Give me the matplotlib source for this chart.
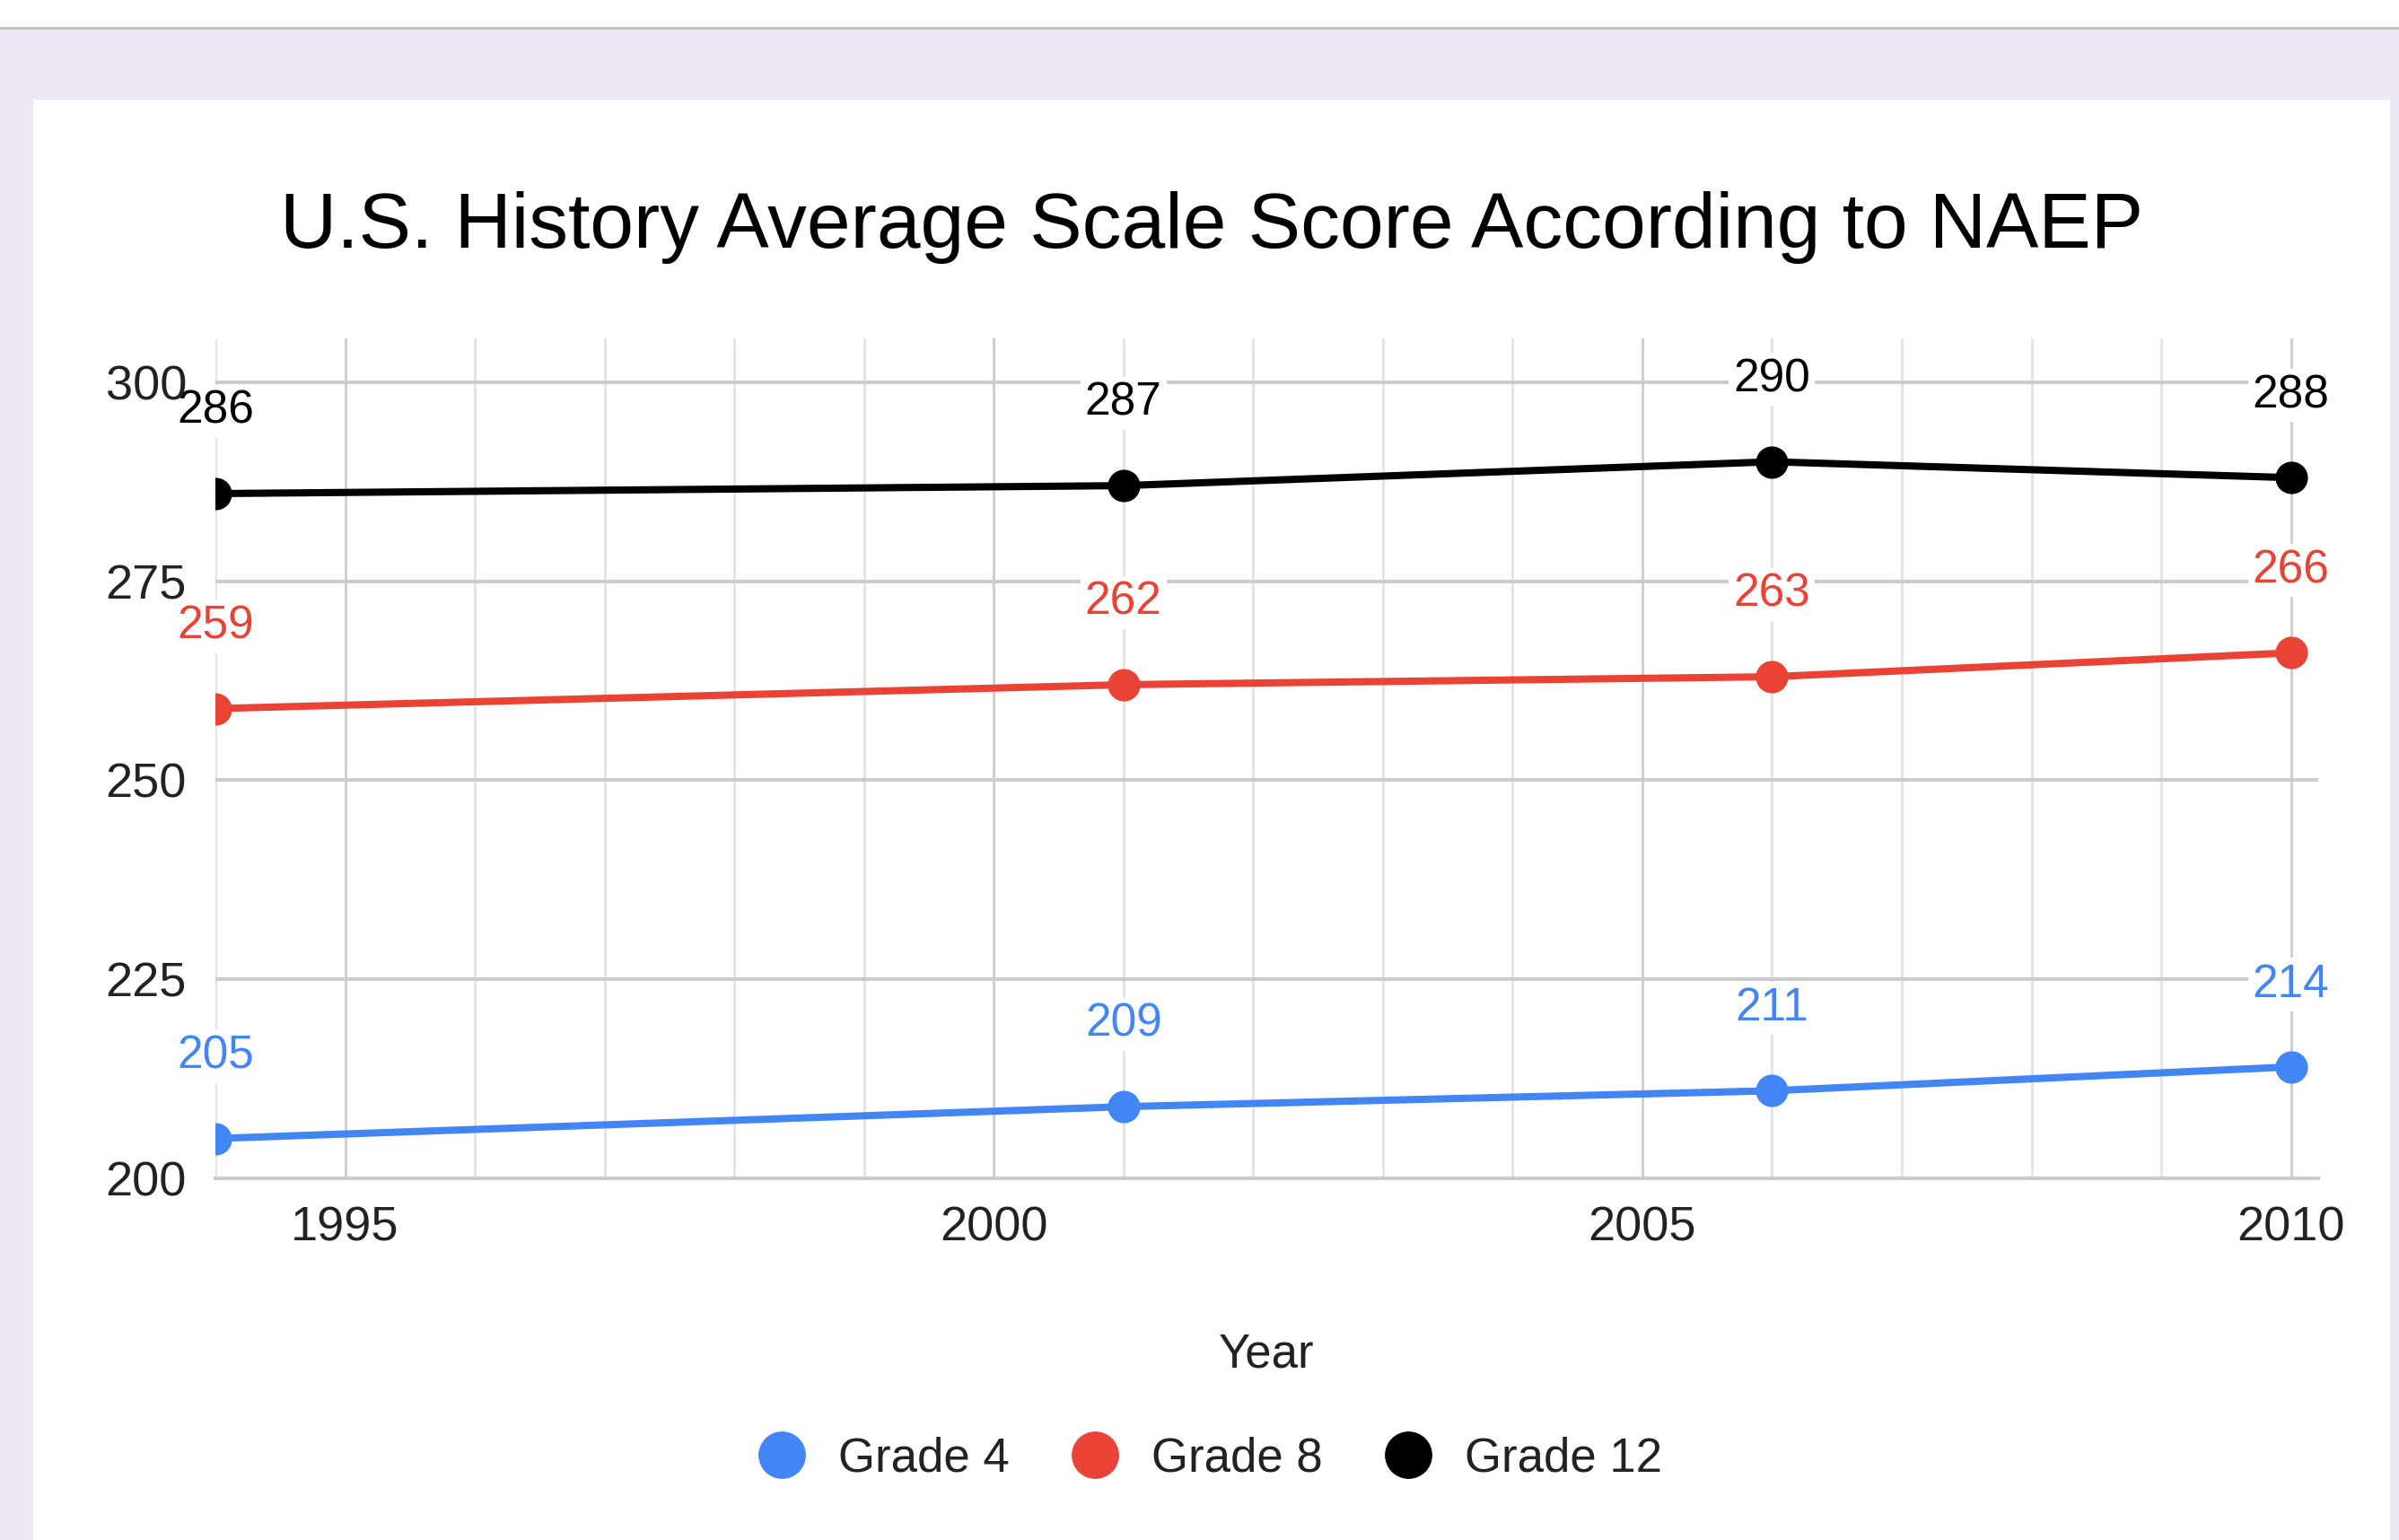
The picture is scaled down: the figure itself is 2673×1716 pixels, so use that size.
import matplotlib
matplotlib.use("Agg")
import matplotlib.pyplot as plt
from matplotlib.patches import Rectangle
from matplotlib.lines import Line2D

plt.rcParams['font.family'] = ['Liberation Sans', 'DejaVu Sans']

# ---- data ----
years = [1994, 2001, 2006, 2010]
series_names = ["Grade 4", "Grade 8", "Grade 12"]
grade4 = [205, 209, 211, 214]
grade8 = [259, 262, 263, 266]
grade12 = [286, 287, 290, 288]
series_values = [grade4, grade8, grade12]
series_colors = ["#4285F4", "#EA4335", "#000000"]
y_ticks = [200, 225, 250, 275, 300]
x_major = [1995, 2000, 2005, 2010]
x_minor = list(range(1994, 2011))
title = "U.S. History Average Scale Score According to NAEP"
x_label = "Year"

W, H = 2673, 1716
fig = plt.figure(figsize=(W / 100, H / 100), dpi=100)
fig.patch.set_facecolor("white")

# backgrounds
fig.add_artist(Rectangle((0, 0), 1, 1 - 33 / H, transform=fig.transFigure,
                         facecolor="#EDE7F6", edgecolor="none", zorder=-10))
fig.add_artist(Line2D([0, 1], [1 - 31 / H, 1 - 31 / H], transform=fig.transFigure,
                      color="#BDBDBD", lw=2, zorder=-9))
fig.add_artist(Rectangle((37 / W, 0), (2663 - 37) / W, 1 - 111 / H, transform=fig.transFigure,
                         facecolor="white", edgecolor="none", zorder=-8))

ax = fig.add_axes([240 / W, 1 - 1313 / H, (2583 - 240) / W, (1313 - 377) / H])
ax.set_facecolor("none")
ax.set_xlim(1994, 2010.21)
ax.set_ylim(200, 305.5)

# gridlines
for xv in x_minor:
    if xv in x_major:
        continue
    ax.axvline(xv, color="#E2E2E2", lw=2, zorder=0)
for xv in x_major:
    ax.axvline(xv, color="#CCCCCC", lw=2, zorder=0.5)
for yv in y_ticks[1:]:
    ax.axhline(yv, color="#CCCCCC", lw=2.9, zorder=0.5)

for s in ["top", "right", "left"]:
    ax.spines[s].set_visible(False)
ax.spines["bottom"].set_color("#CCCCCC")
ax.spines["bottom"].set_linewidth(2.9)
ax.spines["bottom"].set_zorder(0.6)

ax.set_xticks(x_major)
ax.set_xticklabels([str(v) for v in x_major])
ax.set_yticks(y_ticks)
ax.set_yticklabels([str(v) for v in y_ticks])
ax.tick_params(axis="both", length=0, labelsize=39, colors="#222222")
ax.tick_params(axis="x", pad=22)
ax.tick_params(axis="y", pad=23)
ax.yaxis.set_zorder(6)
ax.xaxis.set_zorder(6)

for name, vals, col in zip(series_names, series_values, series_colors):
    ax.plot(years, vals, color=col, lw=5.8, marker="o", markersize=25,
            solid_capstyle="round", zorder=3, label=name)
    for xv, yv in zip(years, vals):
        ax.annotate(str(yv), (xv, yv), xytext=(0, 66), textcoords="offset points",
                    ha="center", va="center", fontsize=37, color=col,
                    annotation_clip=False, zorder=2,
                    bbox=dict(boxstyle="square,pad=0.1", fc="white", ec="none"))

fig.text(1350 / W, 1 - 276 / H, title, ha="center", va="baseline",
         fontsize=63, color="#000000")
fig.text(1411 / W, 1 - 1524 / H, x_label, ha="center", va="baseline",
         fontsize=38, color="#222222")

handles = [Line2D([], [], linestyle="none", marker="o", markersize=37,
                  markerfacecolor=c, markeredgecolor=c) for c in series_colors]
fig.legend(handles, series_names, loc="center", bbox_to_anchor=(1348 / W, 1 - 1625 / H),
           ncol=3, frameon=False, fontsize=38, handlelength=1.0,
           handletextpad=0.7, columnspacing=1.3, labelcolor="#222222")

fig.savefig("out.png", dpi=100, facecolor=fig.get_facecolor())
